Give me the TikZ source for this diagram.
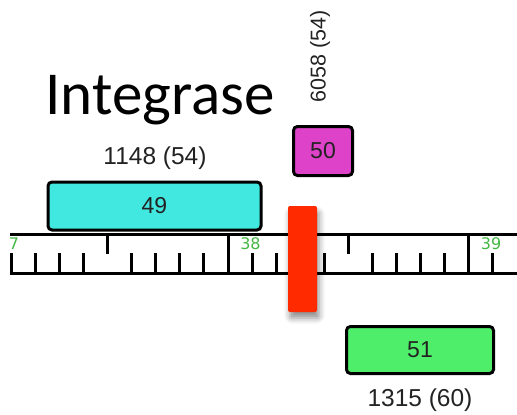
\documentclass[tikz,border=0pt]{standalone}
\usepackage{fontspec}
\setmainfont{Liberation Sans}
\newfontfamily\calib{Carlito}
\newfontfamily\dvs{DejaVu Sans}
\usetikzlibrary{shadows.blur}
\definecolor{cyanbox}{HTML}{40E8E0}
\definecolor{magbox}{HTML}{DE42C8}
\definecolor{greenbox}{HTML}{4FEE6A}
\definecolor{redbar}{HTML}{FF2A00}
\definecolor{txtgray}{HTML}{222222}
\definecolor{lblgreen}{HTML}{44B844}
\begin{document}
\begin{tikzpicture}[x=1pt,y=-1pt,
  featbox/.style={draw=black, line width=3pt, rounded corners=4pt, inner sep=0pt, text=txtgray,
    font=\fontsize{23}{26}\selectfont},
  featlbl/.style={text=txtgray, inner sep=0pt, font=\fontsize{24.5}{28}\selectfont},
  rulerlbl/.style={text=lblgreen, inner sep=0pt, font=\dvs\fontsize{16}{18}\selectfont},
  rulerline/.style={line width=3pt, black},
  tickline/.style={line width=3pt, black}]
\useasboundingbox (0,0) rectangle (517,415);
% title
\node[inner sep=0pt, font=\calib\fontsize{61}{66}\selectfont] (title) at (160,100) {Integrase};
% ruler
\draw[rulerline] (10,234) -- (517,234);
\draw[rulerline] (10,273) -- (517,273);
\foreach \k in {-9,...,11}{
  \pgfmathsetmacro{\xx}{228+24.05*\k}
  \ifnum\k=0
    \draw[tickline] (\xx,234) -- (\xx,273);
  \else\ifnum\k=10
    \draw[tickline] (\xx,234) -- (\xx,273);
  \else\ifnum\k=-5
    \draw[tickline] (\xx,234) -- (\xx,254);
  \else\ifnum\k=5
    \draw[tickline] (\xx,234) -- (\xx,254);
  \else
    \draw[tickline] (\xx,253) -- (\xx,273);
  \fi\fi\fi\fi
}
\node[rulerlbl] (l37) at (14,243.5) {7};
\node[rulerlbl] (l38) at (250.5,243.5) {38};
\node[rulerlbl] (l39) at (491,243.5) {39};
% features
\node[featbox, fill=cyanbox, minimum width=213pt, minimum height=48pt] (f49) at (154.5,206) {49};
\node[featlbl] (t49) at (155,158) {1148 (54)};
\node[featbox, fill=magbox, minimum width=59pt, minimum height=49pt] (f50) at (323,151) {50};
\node[featlbl, rotate=90, font=\fontsize{21.5}{24}\selectfont] (t50) at (320,56) {6058 (54)};
\node[featbox, fill=greenbox, minimum width=147pt, minimum height=47pt] (f51) at (420,350) {51};
\node[featlbl] (t51) at (420,400) {1315 (60)};
% cut site
\node[fill=redbar, rounded corners=2pt, minimum width=29pt, minimum height=106pt, inner sep=0pt,
  blur shadow={shadow xshift=2pt, shadow yshift=-6pt, shadow blur radius=6pt, shadow opacity=45}] (cut) at (302.5,259) {};
\end{tikzpicture}
\end{document}
